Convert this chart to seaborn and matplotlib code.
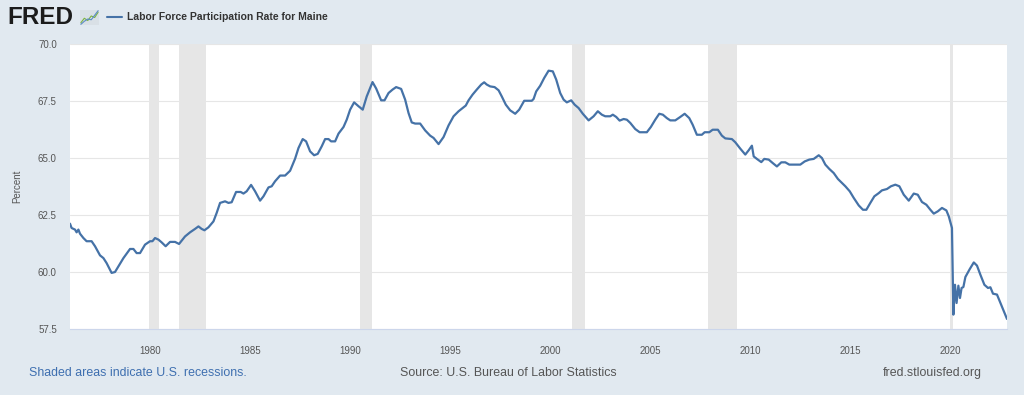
import numpy as np
import pandas as pd
import matplotlib
matplotlib.use("Agg")
import matplotlib.pyplot as plt
from matplotlib.lines import Line2D
import seaborn as sns

# data (decimal year, percent)
years = [
    1976.00, 1976.08, 1976.25, 1976.33, 1976.42, 1976.50, 1976.67, 1976.83,
    1977.08, 1977.25, 1977.50, 1977.67, 1977.83, 1978.08, 1978.25, 1978.42,
    1978.67, 1979.00, 1979.17, 1979.33, 1979.50, 1979.75, 1980.00, 1980.12,
    1980.25, 1980.42, 1980.58, 1980.78, 1981.00, 1981.25, 1981.45, 1981.75,
    1982.00, 1982.25, 1982.42, 1982.58, 1982.72, 1982.92, 1983.17, 1983.33,
    1983.50, 1983.75, 1983.92, 1984.08, 1984.30, 1984.53, 1984.67, 1984.83,
    1985.05, 1985.25, 1985.50, 1985.67, 1985.92, 1986.08, 1986.25, 1986.50,
    1986.75, 1987.00, 1987.25, 1987.42, 1987.63, 1987.80, 1988.00, 1988.20,
    1988.38, 1988.58, 1988.75, 1988.92, 1989.05, 1989.25, 1989.42, 1989.67,
    1989.83, 1990.00, 1990.20, 1990.42, 1990.63, 1990.83, 1991.12, 1991.30,
    1991.55, 1991.72, 1991.92, 1992.12, 1992.30, 1992.55, 1992.75, 1992.92,
    1993.08, 1993.25, 1993.50, 1993.75, 1994.00, 1994.17, 1994.42, 1994.67,
    1994.92, 1995.17, 1995.42, 1995.62, 1995.78, 1995.92, 1996.12, 1996.33,
    1996.55, 1996.70, 1996.83, 1997.00, 1997.22, 1997.42, 1997.58, 1997.78,
    1998.00, 1998.25, 1998.45, 1998.70, 1999.08, 1999.17, 1999.30, 1999.50,
    1999.70, 1999.92, 2000.13, 2000.30, 2000.50, 2000.67, 2000.83, 2001.05,
    2001.22, 2001.42, 2001.63, 2001.92, 2002.17, 2002.38, 2002.58, 2002.75,
    2003.00, 2003.13, 2003.30, 2003.47, 2003.67, 2003.83, 2004.00, 2004.25,
    2004.47, 2004.83, 2005.03, 2005.25, 2005.45, 2005.63, 2005.83, 2006.00,
    2006.25, 2006.50, 2006.72, 2006.95, 2007.12, 2007.33, 2007.58, 2007.72,
    2007.95, 2008.12, 2008.38, 2008.58, 2008.75, 2009.08, 2009.25, 2009.50,
    2009.75, 2009.92, 2010.08, 2010.17, 2010.33, 2010.55, 2010.70, 2010.92,
    2011.12, 2011.33, 2011.55, 2011.75, 2011.95, 2012.50, 2012.72, 2012.95,
    2013.17, 2013.42, 2013.58, 2013.75, 2013.95, 2014.17, 2014.38, 2014.55,
    2014.75, 2014.97, 2015.17, 2015.42, 2015.63, 2015.80, 2016.00, 2016.20,
    2016.42, 2016.58, 2016.83, 2017.03, 2017.25, 2017.45, 2017.67, 2017.92,
    2018.17, 2018.37, 2018.58, 2018.80, 2019.00, 2019.17, 2019.37, 2019.58,
    2019.80, 2019.92, 2020.08, 2020.15, 2020.23, 2020.31, 2020.40, 2020.48,
    2020.56, 2020.65, 2020.75, 2020.97, 2021.17, 2021.33, 2021.50, 2021.70,
    2021.88, 2022.00, 2022.13, 2022.33, 2022.47, 2022.67, 2022.83,
]
values = [
    62.12, 61.93, 61.86, 61.74, 61.86, 61.68, 61.49, 61.35,
    61.35, 61.13, 60.73, 60.61, 60.39, 59.96, 60.00, 60.25,
    60.61, 61.01, 61.01, 60.83, 60.83, 61.20, 61.35, 61.35,
    61.49, 61.42, 61.30, 61.13, 61.32, 61.32, 61.23, 61.56,
    61.74, 61.89, 62.00, 61.89, 61.83, 61.96, 62.22, 62.59,
    63.03, 63.10, 63.03, 63.06, 63.51, 63.51, 63.44, 63.54,
    63.82, 63.54, 63.13, 63.32, 63.71, 63.76, 63.98, 64.23,
    64.23, 64.44, 64.97, 65.44, 65.83, 65.73, 65.29, 65.12,
    65.18, 65.51, 65.83, 65.83, 65.73, 65.73, 66.07, 66.36,
    66.68, 67.12, 67.44, 67.27, 67.12, 67.70, 68.33, 68.05,
    67.53, 67.53, 67.85, 68.00, 68.11, 68.03, 67.56, 66.97,
    66.56, 66.51, 66.51, 66.21, 65.98, 65.88, 65.61, 65.92,
    66.43, 66.83, 67.05, 67.19, 67.30, 67.53, 67.78, 68.00,
    68.22, 68.32, 68.22, 68.14, 68.11, 67.97, 67.70, 67.34,
    67.09, 66.94, 67.12, 67.51, 67.51, 67.59, 67.92, 68.17,
    68.51, 68.83, 68.80, 68.44, 67.85, 67.56, 67.44, 67.53,
    67.34, 67.19, 66.94, 66.65, 66.83, 67.05, 66.90, 66.83,
    66.83, 66.90, 66.80, 66.64, 66.71, 66.68, 66.54, 66.27,
    66.13, 66.13, 66.36, 66.68, 66.94, 66.90, 66.75, 66.65,
    66.65, 66.80, 66.94, 66.75, 66.46, 66.02, 66.02, 66.13,
    66.13, 66.24, 66.24, 65.98, 65.86, 65.83, 65.69, 65.41,
    65.15, 65.34, 65.54, 65.07, 64.96, 64.82, 64.96, 64.93,
    64.78, 64.63, 64.81, 64.81, 64.71, 64.71, 64.85, 64.93,
    64.96, 65.12, 65.00, 64.71, 64.52, 64.34, 64.08, 63.93,
    63.76, 63.54, 63.25, 62.92, 62.73, 62.73, 63.03, 63.32,
    63.46, 63.58, 63.64, 63.76, 63.83, 63.76, 63.39, 63.13,
    63.44, 63.39, 63.07, 62.95, 62.73, 62.56, 62.66, 62.81,
    62.70, 62.44, 61.93, 58.13, 59.44, 58.64, 59.40, 58.86,
    59.30, 59.34, 59.78, 60.13, 60.42, 60.28, 59.88, 59.44,
    59.30, 59.33, 59.05, 59.01, 58.71, 58.27, 57.94,
]

recession_start = [1979.97, 1981.47, 1990.47, 2001.10, 2007.87, 2020.00]
recession_end = [1980.47, 1982.80, 1991.10, 2001.75, 2009.35, 2020.12]

y_ticks = [57.5, 60.0, 62.5, 65.0, 67.5, 70.0]
x_ticks = [1980, 1985, 1990, 1995, 2000, 2005, 2010, 2015, 2020]

# tiny FRED logo icon lines
icon_x = [0, 1, 2, 3, 4, 5]
icon_green = [1.0, 2.2, 1.6, 2.8, 2.4, 3.8]
icon_blue = [0.6, 1.4, 2.0, 1.8, 3.0, 4.2]

df = pd.DataFrame({"year": years, "value": values})

sns.set_style("white")
plt.rcParams["font.family"] = ["Liberation Sans", "DejaVu Sans"]

bg = "#e1e9f0"
line_color = "#4572a7"
W, H = 1024, 395

fig = plt.figure(figsize=(W / 100, H / 100), dpi=100, facecolor=bg)
ax = fig.add_axes([70 / W, 66 / H, 937 / W, 285 / H])
ax.set_facecolor("white")

for s, e in zip(recession_start, recession_end):
    ax.axvspan(s, e, color="#e6e6e6", lw=0, zorder=0)

sns.lineplot(data=df, x="year", y="value", ax=ax, color=line_color,
             linewidth=1.6, zorder=3)

ax.set_xlim(years[0], years[-1])
ax.set_ylim(57.5, 70.0)
ax.set_yticks(y_ticks)
ax.set_yticklabels([f"{v:.1f}" for v in y_ticks])
ax.set_xticks(x_ticks)
ax.set_xticklabels([str(v) for v in x_ticks])

ax.grid(axis="y", color="#e6e6e6", linewidth=0.8, zorder=1)
ax.grid(axis="x", visible=False)
ax.set_axisbelow(True)

for sp in ["top", "right", "left"]:
    ax.spines[sp].set_visible(False)
ax.spines["bottom"].set_color("#ccd6eb")
ax.spines["bottom"].set_linewidth(0.8)

ax.tick_params(axis="y", length=0, pad=9.5, labelsize=7, labelcolor="#555555")
ax.tick_params(axis="x", length=7, width=0.8, color="#ccd6eb", pad=5,
               labelsize=7, labelcolor="#555555")

ax.set_xlabel("")
ax.set_ylabel("Percent", fontsize=7, color="#555555")
ax.yaxis.set_label_coords((22 - 70) / 937, 0.5)

# header
fig.text(7 / W, 1 - 17.5 / H, "FRED", fontsize=17.5, fontweight="bold",
         family="Liberation Sans", color="#1c1c1c", va="center", ha="left")
icon = fig.add_axes([80 / W, 1 - 25 / H, 19 / W, 15 / H])
icon.set_facecolor("#d9e0e6")
icon.plot(icon_x, icon_green, color="#7cb342", lw=0.8)
icon.plot(icon_x, icon_blue, color="#5b8bc6", lw=0.8)
icon.set_xticks([])
icon.set_yticks([])
for sp in icon.spines.values():
    sp.set_visible(False)

fig.add_artist(Line2D([107 / W, 122 / W], [1 - 16.7 / H, 1 - 16.7 / H],
                      transform=fig.transFigure, color=line_color, lw=1.5))
fig.text(127 / W, 1 - 16.7 / H, "Labor Force Participation Rate for Maine",
         fontsize=7.5, fontweight="bold", color="#333333", va="center", ha="left")

# footer
fig.text(29 / W, 1 - 373 / H, "Shaded areas indicate U.S. recessions.",
         fontsize=8.9, color="#3e6fb0", va="center", ha="left")
fig.text(400 / W, 1 - 373 / H, "Source: U.S. Bureau of Labor Statistics",
         fontsize=8.9, color="#555555", va="center", ha="left")
fig.text(982 / W, 1 - 373 / H, "fred.stlouisfed.org",
         fontsize=8.9, color="#555555", va="center", ha="right")

fig.savefig("out.png", dpi=100, facecolor=bg)
